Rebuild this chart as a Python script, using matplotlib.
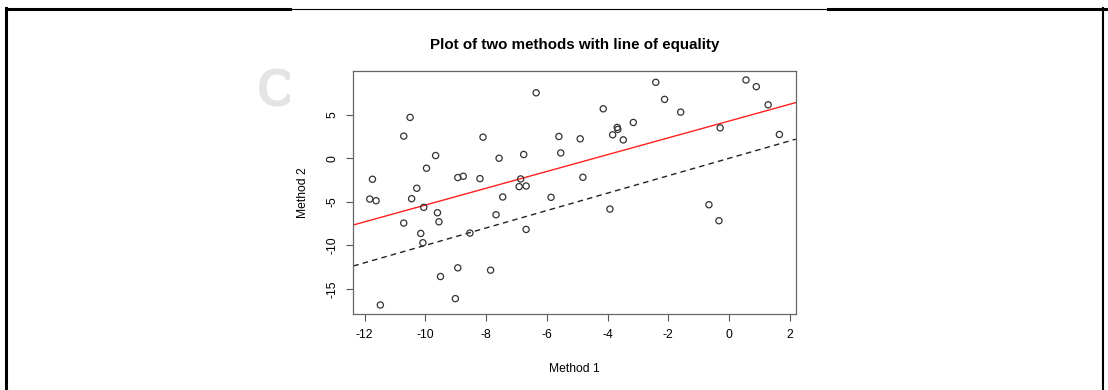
import numpy as np
import matplotlib.pyplot as plt
from matplotlib.lines import Line2D
from matplotlib.patches import Rectangle

plt.rcParams['font.family'] = ['Liberation Sans', 'DejaVu Sans']

# readings of the two methods
method1 = [-10.50, -10.71, -8.10, -9.66, -7.57, -9.96, -11.74, -8.93, -8.75, -8.20,
           -10.28, -6.35, -4.14, -3.15, -3.68, -3.66, -3.83, -3.48, -5.60, -4.90,
           -5.54, -6.76, -4.81, -6.86, -6.91, -6.68, -2.41, -2.12, -1.59, 0.56,
           0.90, 1.29, -0.29, 1.66, -11.83, -11.62, -10.45, -10.05, -9.60, -9.55,
           -10.71, -10.15, -10.08, -8.53, -7.67, -8.93, -9.50, -7.85, -9.01, -11.48,
           -7.45, -5.86, -6.68, -3.92, -0.66, -0.33]
method2 = [4.70, 2.55, 2.43, 0.32, 0.01, -1.14, -2.41, -2.21, -2.06, -2.33,
           -3.44, 7.53, 5.69, 4.12, 3.55, 3.32, 2.70, 2.12, 2.51, 2.24,
           0.62, 0.44, -2.18, -2.37, -3.25, -3.18, 8.73, 6.77, 5.31, 9.00,
           8.23, 6.15, 3.50, 2.74, -4.68, -4.87, -4.64, -5.63, -6.25, -7.29,
           -7.44, -8.63, -9.70, -8.59, -6.48, -12.58, -13.58, -12.85, -16.12, -16.85,
           -4.44, -4.48, -8.17, -5.83, -5.33, -7.17]

# red line, dashed line is y = x
red_intercept = 4.28
red_slope = 0.965
x_ticks = [-12, -10, -8, -6, -4, -2, 0, 2]
y_ticks = [-15, -10, -5, 0, 5]

x = np.array(method1)
y = np.array(method2)

fig = plt.figure(figsize=(11.08, 3.9), dpi=100)
ax = fig.add_axes([0.3189, 0.1949, 0.3993, 0.6231])
ax.set_zorder(2)

ax.scatter(x, y, s=20, facecolors='none', edgecolors='#333333', linewidths=0.9, zorder=3)

xr = x.max() - x.min()
yr = y.max() - y.min()
ax.set_xlim(x.min() - 0.04 * xr, x.max() + 0.04 * xr)
ax.set_ylim(y.min() - 0.04 * yr, y.max() + 0.04 * yr)

xs = np.array(ax.get_xlim())
ax.plot(xs, red_intercept + red_slope * xs, color='#ff2020', lw=1.0)
ax.plot(xs, xs, color='#222222', lw=1.0, ls=(0, (4, 3)))

ax.set_xticks(x_ticks)
ax.set_yticks(y_ticks)
ax.set_xticklabels([str(t) for t in x_ticks])
ax.set_yticklabels([str(t) for t in y_ticks], rotation=90, va='center')
ax.tick_params(direction='out', length=5, width=0.8, color='#555555',
               labelsize=8.7, pad=6)
for sp in ax.spines.values():
    sp.set_color('#666666')
    sp.set_linewidth(0.9)

ax.set_title('Plot of two methods with line of equality', fontsize=10.9,
             fontweight='bold', pad=16)
ax.set_xlabel('Method 1', fontsize=8.7, labelpad=16)
ax.set_ylabel('Method 2', fontsize=8.7, labelpad=12)

# watermark (cut off by the white page) and page frame
fig.text(0.232, 0.762, 'Cr', fontsize=38, fontweight='bold', color='#e4e4e4',
         va='center', ha='left', zorder=0.2)
fig.add_artist(Rectangle((290 / 1108, 0.2), 538 / 1108, 0.77, transform=fig.transFigure,
                         facecolor='white', edgecolor='none', zorder=0.5))
fig.add_artist(Line2D([6 / 1108, 290 / 1108], [1 - 9 / 390] * 2, transform=fig.transFigure,
                      color='black', lw=2.2, zorder=3))
fig.add_artist(Line2D([290 / 1108, 828 / 1108], [1 - 8.5 / 390] * 2, transform=fig.transFigure,
                      color='black', lw=0.8, zorder=3))
fig.add_artist(Line2D([828 / 1108, 1.0], [1 - 9 / 390] * 2, transform=fig.transFigure,
                      color='black', lw=2.2, zorder=3))
fig.add_artist(Line2D([6 / 1108] * 2, [0, 1 - 8 / 390], transform=fig.transFigure,
                      color='black', lw=2.2, zorder=3))
fig.add_artist(Line2D([1103 / 1108] * 2, [0, 1 - 8 / 390], transform=fig.transFigure,
                      color='black', lw=1.5, zorder=3))

fig.savefig('out.png', dpi=100)
